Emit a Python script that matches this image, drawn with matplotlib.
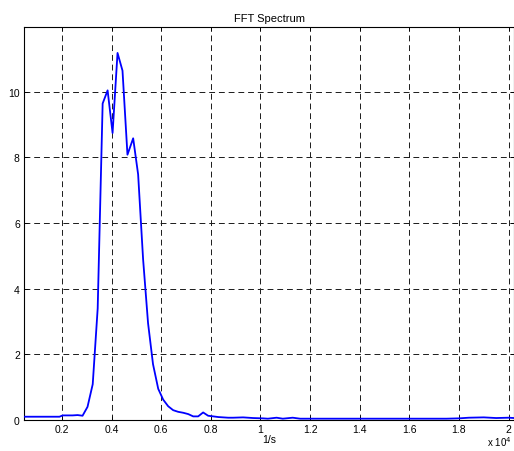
import matplotlib

matplotlib.use("Agg")
import matplotlib.pyplot as plt

# frequency axis (x 10^4) and FFT amplitude
freq = [0.047, 0.10, 0.15, 0.19, 0.203, 0.223, 0.243, 0.263, 0.283, 0.303,
        0.324, 0.344, 0.364, 0.384, 0.404, 0.424, 0.444, 0.464, 0.487, 0.507,
        0.527, 0.547, 0.567, 0.588, 0.608, 0.628, 0.648, 0.668, 0.689, 0.709,
        0.729, 0.749, 0.769, 0.789, 0.81, 0.83, 0.85, 0.87, 0.89, 0.93,
        0.97, 1.01, 1.03, 1.065, 1.09, 1.13, 1.16, 1.3, 1.5, 1.75,
        1.8, 1.84, 1.9, 1.95, 2.0, 2.022]
amp = [0.10, 0.10, 0.10, 0.10, 0.14, 0.14, 0.14, 0.15, 0.13, 0.40,
       1.09, 3.4, 9.64, 10.04, 8.74, 11.18, 10.64, 8.08, 8.58, 7.48,
       4.9, 2.95, 1.7, 0.95, 0.62, 0.42, 0.30, 0.25, 0.22, 0.18,
       0.11, 0.11, 0.23, 0.13, 0.11, 0.09, 0.08, 0.07, 0.07, 0.08,
       0.06, 0.05, 0.04, 0.07, 0.04, 0.07, 0.04, 0.04, 0.04, 0.04,
       0.05, 0.07, 0.08, 0.06, 0.07, 0.06]

xticks = [0.2, 0.4, 0.6, 0.8, 1.0, 1.2, 1.4, 1.6, 1.8, 2.0]
xtick_labels = ["0.2", "0.4", "0.6", "0.8", "1", "1.2", "1.4", "1.6", "1.8", "2"]
yticks = [0, 2, 4, 6, 8, 10]

plt.rcParams["font.family"] = ["Liberation Sans", "DejaVu Sans"]

fig = plt.figure(figsize=(5.14, 4.52), dpi=100)
ax = fig.add_axes([24 / 514, 1 - 421 / 452, 1 - 24 / 514, (421 - 28) / 452])

ax.plot(freq, amp, color="#0000ff", linewidth=1.3, zorder=3)

ax.set_xlim(0.047, 2.022)
ax.set_ylim(0, 11.97)
ax.set_xticks(xticks)
ax.set_xticklabels(xtick_labels)
ax.set_yticks(yticks)
ax.tick_params(direction="in", length=3, width=0.6, labelsize=7.5, top=True,
               right=True, pad=3, colors="black")
ax.grid(True, color="#1a1a1a", linestyle=(0, (6, 4)), linewidth=0.7)
for s in ax.spines.values():
    s.set_linewidth(0.8)

ax.set_title("FFT Spectrum", fontsize=8, pad=4)
ax.set_xlabel("1/s", fontsize=7.5, labelpad=0)
fig.text(0.995, 3 / 452, r"x 10$^{4}$", fontsize=7, va="bottom", ha="right")

fig.savefig("out.png", dpi=100)
plt.close(fig)
